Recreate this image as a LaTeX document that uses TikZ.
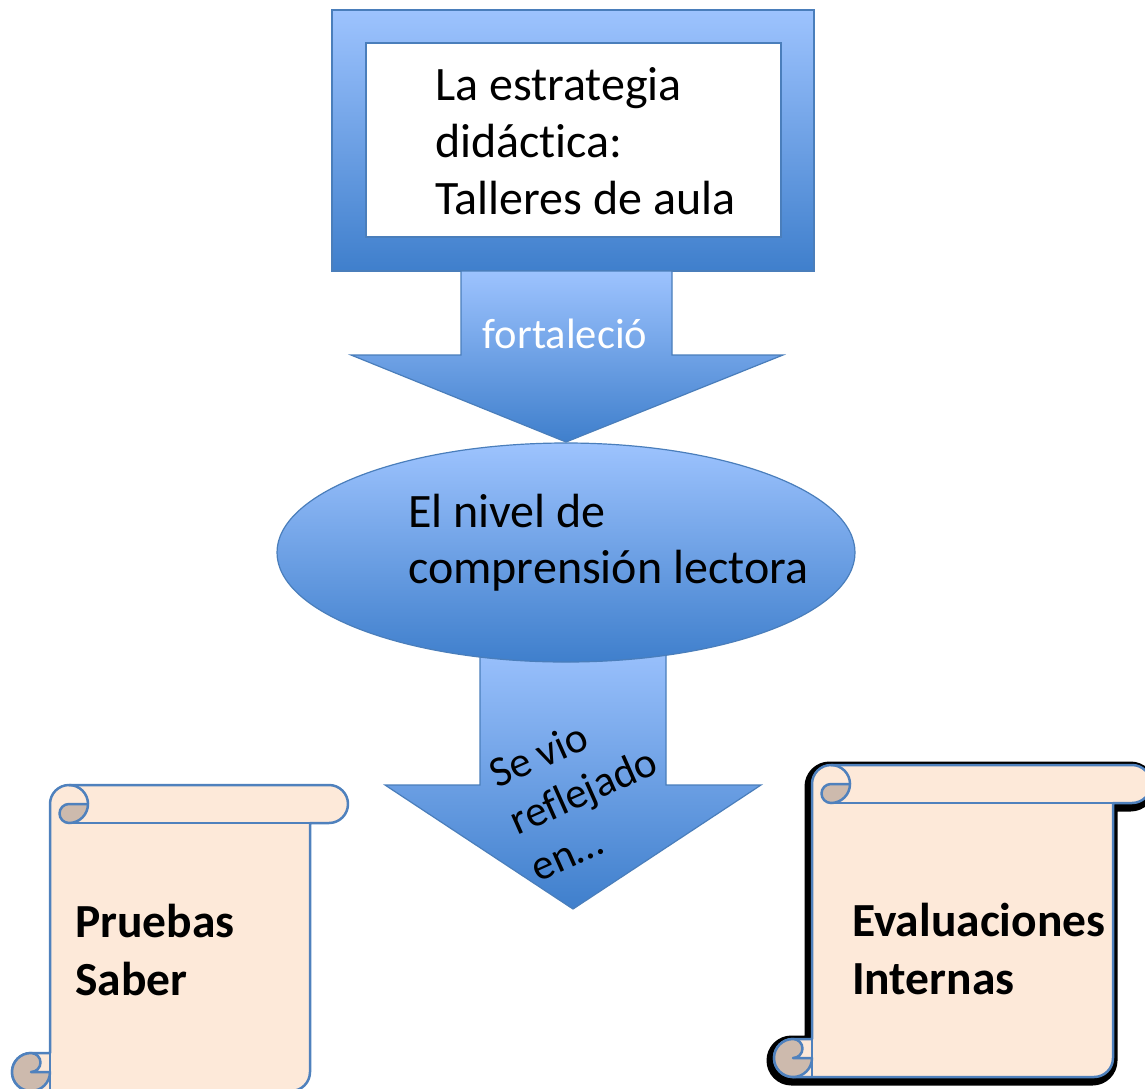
\documentclass[tikz,border=0pt]{standalone}
\usepackage{fontspec}
\setmainfont{Carlito}[Ligatures=NoCommon]
\usetikzlibrary{shapes.geometric}
\definecolor{bllight}{HTML}{9DC3FE}
\definecolor{bldark}{HTML}{3F7FCC}
\definecolor{blline}{HTML}{4A7EBB}
\definecolor{peach}{HTML}{FDE9D9}
\definecolor{curlc}{HTML}{CDBAAD}
\definecolor{scrline}{HTML}{4F81BD}
\begin{document}
\begin{tikzpicture}[x=1pt,y=-1pt,
  grad/.style={top color=bllight, bottom color=bldark, draw=blline, line width=1.2pt},
  scrollbody/.style={fill=peach, draw=scrline, line width=2.5pt, line join=round},
  curlpart/.style={fill=curlc, draw=scrline, line width=2.5pt, line join=round},
  scrollline/.style={draw=scrline, line width=2.5pt},
  shadowpart/.style={fill=black, draw=black, line width=12pt, line join=round},
  bigtext/.style={inner sep=0pt, font=\fontsize{48}{57}\selectfont},
  boldtext/.style={inner sep=0pt, font=\bfseries\fontsize{47.5}{58}\selectfont},
  arrowtext/.style={inner sep=0pt, font=\fontsize{43}{51}\selectfont}]
\useasboundingbox (0,0) rectangle (1145,1088);
% top frame
\node[grad, rectangle, minimum width=482pt, minimum height=261pt, inner sep=0pt] (frame) at (573,140.5) {};
\node[rectangle, fill=white, draw=blline, line width=1.2pt, minimum width=415pt, minimum height=194pt, inner sep=0pt] (inner) at (573.5,140) {};
\node[bigtext, anchor=base west] (t1) at (435,100) {\vtop{\hbox{La estrategia}\hbox{didáctica:}\hbox{Talleres de aula}}};
% arrow 1
\path[grad] (461,271) -- (672,271) -- (672,355) -- (783,355) -- (566,442) -- (351,355) -- (461,355) -- cycle;
\node[inner sep=0pt, font=\fontsize{42.5}{50}\selectfont, text=white, anchor=base] (t2) at (565,348) {fortaleció};
% arrow 2
\path[grad] (480,640) -- (666,640) -- (666,785) -- (761,785) -- (573,909) -- (385,785) -- (480,785) -- cycle;
% ellipse
\node[ellipse, grad, minimum width=578pt, minimum height=219pt, inner sep=0pt] (oval) at (566,552.5) {};
\node[bigtext, anchor=base west, font=\fontsize{48}{56}\selectfont] (t3) at (408,527) {\vtop{\hbox{El nivel de}\hbox{comprensión lectora}}};
\node[arrowtext, rotate=24, anchor=base west] (t4) at (497,789) {\vtop{\hbox{Se vio}\hbox{reflejado}\hbox{en…}}};
% left scroll
\path[scrollbody] (50,1053) -- (50,804) arc[start angle=180,end angle=270,radius=19] -- (329,785) arc[start angle=270,end angle=450,radius=19] -- (310,823) -- (310,1072) arc[start angle=0,end angle=90,radius=19] -- (31,1091) arc[start angle=90,end angle=270,radius=19] -- cycle;
\path[curlpart] (69,804) -- (88,804) arc[start angle=0,end angle=90,radius=19] arc[start angle=90,end angle=270,radius=9.5] -- cycle;
\draw[scrollline] (69,785) arc[start angle=270,end angle=360,radius=19];
\draw[scrollline] (69,823) -- (310,823);
\path[curlpart] (31,1053) arc[start angle=270,end angle=450,radius=9.5] -- (50,1072) arc[start angle=0,end angle=90,radius=19] arc[start angle=90,end angle=270,radius=19] -- cycle;
\draw[scrollline] (50,1053) -- (50,1091);
\node[boldtext, anchor=base west] (t5) at (75,937) {\vtop{\hbox{Pruebas}\hbox{Saber}}};
% right scroll shadow
\path[shadowpart, shift={(-1.5,2.5)}] (812,1039) -- (812,784) arc[start angle=180,end angle=270,radius=19] -- (1132,765) arc[start angle=270,end angle=450,radius=19] -- (1113,803) -- (1113,1058) arc[start angle=0,end angle=90,radius=19] -- (793,1077) arc[start angle=90,end angle=270,radius=19] -- cycle;
% right scroll
\path[scrollbody] (812,1039) -- (812,784) arc[start angle=180,end angle=270,radius=19] -- (1132,765) arc[start angle=270,end angle=450,radius=19] -- (1113,803) -- (1113,1058) arc[start angle=0,end angle=90,radius=19] -- (793,1077) arc[start angle=90,end angle=270,radius=19] -- cycle;
\path[curlpart] (831,784) -- (850,784) arc[start angle=0,end angle=90,radius=19] arc[start angle=90,end angle=270,radius=9.5] -- cycle;
\draw[scrollline] (831,765) arc[start angle=270,end angle=360,radius=19];
\draw[scrollline] (831,803) -- (1113,803);
\path[curlpart] (793,1039) arc[start angle=270,end angle=450,radius=9.5] -- (812,1058) arc[start angle=0,end angle=90,radius=19] arc[start angle=90,end angle=270,radius=19] -- cycle;
\draw[scrollline] (812,1039) -- (812,1077);
\node[boldtext, anchor=base west] (t6) at (852,936) {\vtop{\hbox{Evaluaciones}\hbox{Internas}}};
\end{tikzpicture}
\end{document}
